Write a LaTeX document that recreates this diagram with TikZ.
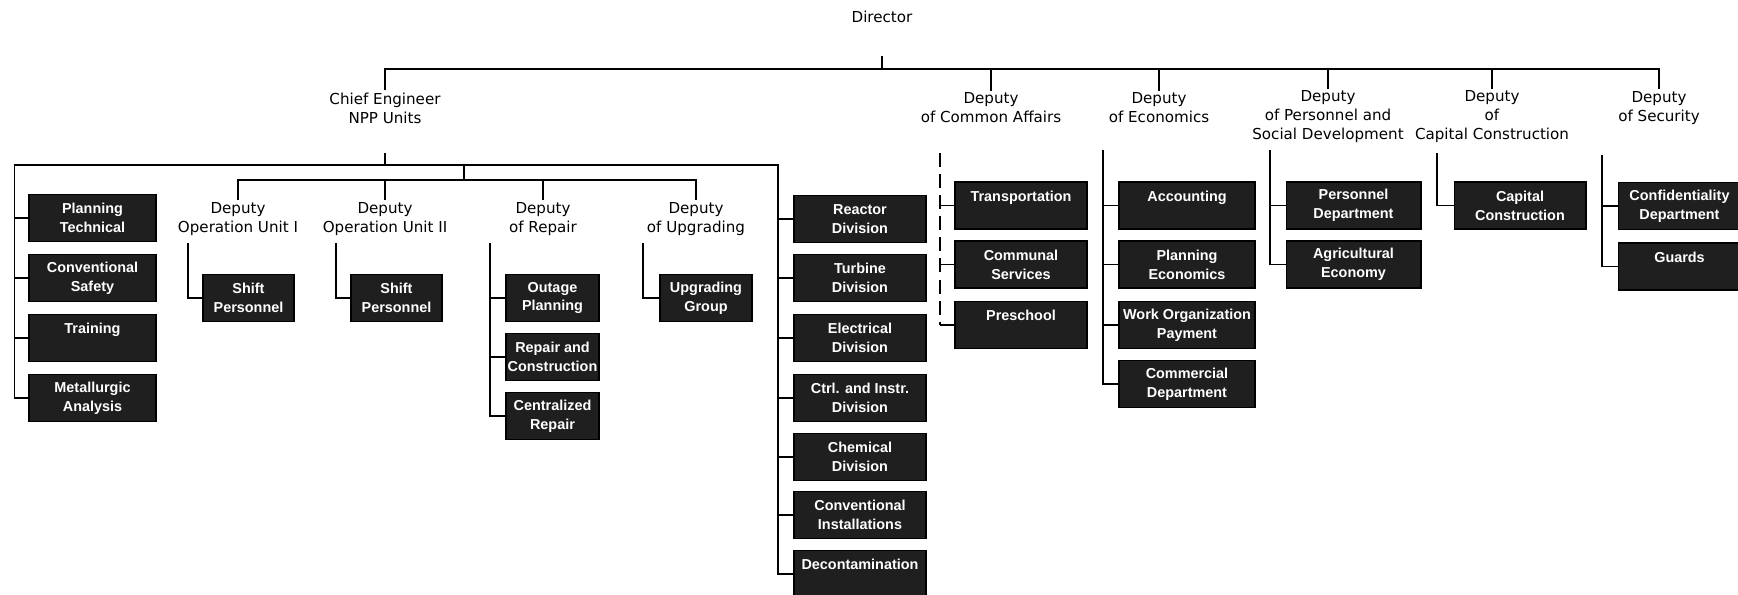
\documentclass[tikz,border=0pt]{standalone}
\usepackage{fontspec}
\setmainfont{Liberation Sans}
\newfontfamily\labelfont{DejaVu Sans}
\begin{document}
\begin{tikzpicture}[x=0.02cm,y=-0.02cm,line width=0.6pt,
    unitbox/.style={draw=black,fill=black!88,text=white,inner sep=0pt,
      minimum height=0.94cm,align=center,font=\fontsize{8.2}{10.8}\selectfont\bfseries},
    staffbox/.style={unitbox,minimum width=2.54cm},
    shiftbox/.style={unitbox,minimum width=1.84cm},
    divbox/.style={unitbox,minimum width=2.64cm},
    ecobox/.style={unitbox,minimum width=2.72cm},
    perbox/.style={unitbox,minimum width=2.7cm},
    secbox/.style={unitbox,minimum width=2.46cm},
    deputy/.style={align=center,inner sep=1pt,font=\labelfont\fontsize{8.6}{10.8}\selectfont}]
    \path[fill=white,use as bounding box] (0,0) rectangle (1738,595);

    % Director and deputies
    \node[deputy] (dir) at (882,17) {Director};
    \node[deputy] (ce) at (385,108) {Chief Engineer\\NPP Units};
    \node[deputy] (ca) at (991,108) {Deputy\\of Common Affairs};
    \node[deputy] (eco) at (1159,108) {Deputy\\of Economics};
    \node[deputy] (per) at (1328,117) {Deputy\\of Personnel and\\Social Development};
    \node[deputy] (cap) at (1492,117) {Deputy\\of\\Capital Construction};
    \node[deputy] (sec) at (1659,108) {Deputy\\of Security};

    \coordinate (bus1) at (0,69);
    \coordinate (dirs) at (882,56);
    \draw (dirs) -- (dirs |- bus1);
    \draw (ce.north) |- (bus1 -| sec.north) -- (sec.north);
    \foreach \n in {ca,eco,per,cap}
      \draw (\n.north) -- (\n.north |- bus1);

    % Chief engineer staff
    \node[staffbox] (pt) at (92.5,218) {Planning\\Technical};
    \node[staffbox] (cs) at (92.5,278) {Conventional\\Safety};
    \node[staffbox] (tr) at (92.5,338) {Training\\~};
    \node[staffbox] (ma) at (92.5,398) {Metallurgic\\Analysis};

    % Divisions
    \node[divbox] (rd) at (860,219) {Reactor\\Division};
    \node[divbox] (td) at (860,278) {Turbine\\Division};
    \node[divbox] (ed) at (860,338) {Electrical\\Division};
    \node[divbox] (cid) at (860,398) {Ctrl. and Instr.\\Division};
    \node[divbox] (chd) at (860,457) {Chemical\\Division};
    \node[divbox] (ci) at (860,515) {Conventional\\Installations};
    \node[divbox] (dec) at (860,574) {Decontamination\\~};

    \coordinate (bus2) at (0,165);
    \coordinate (ceb) at (385,153);
    \coordinate (rx) at (778,0);
    \draw (ceb) -- (ceb |- bus2);
    \draw (ma.west) -- ++(-14,0) |- (bus2 -| rx) |- (dec.west);
    \foreach \n in {pt,cs,tr}
      \draw (\n.west) -- ++(-14,0);
    \foreach \n in {rd,td,ed,cid,chd,ci}
      \draw (\n.west) -- (\n.west -| rx);

    % Deputies of the chief engineer
    \node[deputy] (op1) at (238,219) {Deputy\\Operation Unit I};
    \node[deputy] (op2) at (385,219) {Deputy\\Operation Unit II};
    \node[deputy] (rep) at (543,219) {Deputy\\of Repair};
    \node[deputy] (upg) at (696,219) {Deputy\\of Upgrading};

    \coordinate (bus3) at (464,180);
    \draw (bus3) -- (bus3 |- bus2);
    \draw (op1.north) |- (bus3) -| (upg.north);
    \foreach \n in {op2,rep}
      \draw (\n.north) -- (\n.north |- bus3);

    \node[shiftbox,minimum width=1.82cm] (sp1) at (248.5,298) {Shift\\Personnel};
    \node[shiftbox,minimum width=1.82cm] (sp2) at (396.5,298) {Shift\\Personnel};
    \node[shiftbox,minimum width=1.86cm] (op) at (552.5,298) {Outage\\Planning};
    \node[shiftbox,minimum width=1.86cm] (rc) at (552.5,357) {Repair and\\Construction};
    \node[shiftbox,minimum width=1.86cm] (cr) at (552.5,416) {Centralized\\Repair};
    \node[shiftbox] (ug) at (706,298) {Upgrading\\Group};

    \coordinate (op1s) at (188,243);
    \coordinate (op2s) at (336,243);
    \coordinate (reps) at (490,243);
    \coordinate (upgs) at (643,243);
    \draw (op1s) |- (sp1.west);
    \draw (op2s) |- (sp2.west);
    \draw (reps) |- (cr.west);
    \foreach \n in {op,rc}
      \draw (\n.west) -- (\n.west -| reps);
    \draw (upgs) |- (ug.west);

    % Common affairs
    \node[divbox] (trn) at (1021,205.5) {Transportation\\~};
    \node[divbox] (com) at (1021,264.5) {Communal\\Services};
    \node[divbox] (pre) at (1021,325) {Preschool\\~};
    \coordinate (cas) at (940,153);
    \draw[dash pattern=on 8pt off 4pt] (cas) -- (cas |- pre.west);
    \foreach \n in {trn,com,pre}
      \draw (\n.west) -- (\n.west -| cas);

    % Economics
    \node[ecobox] (acc) at (1187,205.5) {Accounting\\~};
    \node[ecobox] (pe) at (1187,264.5) {Planning\\Economics};
    \node[ecobox] (wop) at (1187,325) {Work Organization\\Payment};
    \node[ecobox] (cd) at (1187,384) {Commercial\\Department};
    \coordinate (ecos) at (1103,150);
    \draw (ecos) |- (cd.west);
    \foreach \n in {acc,pe,wop}
      \draw (\n.west) -- (\n.west -| ecos);

    % Personnel
    \node[perbox] (pd) at (1353.5,205.5) {Personnel\\Department};
    \node[perbox] (ae) at (1353.5,264.5) {Agricultural\\Economy};
    \coordinate (pers) at (1270,150);
    \draw (pers) |- (ae.west);
    \draw (pd.west) -- (pd.west -| pers);

    % Capital construction
    \node[divbox] (cc) at (1520,205.5) {Capital\\Construction};
    \coordinate (caps) at (1437,153);
    \draw (caps) |- (cc.west);

    % Security
    \node[secbox] (cfd) at (1679.5,206) {Confidentiality\\Department};
    \node[secbox] (gd) at (1679.5,266.5) {Guards\\~};
    \coordinate (secs) at (1602,155);
    \draw (secs) |- (gd.west);
    \draw (cfd.west) -- (cfd.west -| secs);
  \end{tikzpicture}
\end{document}
